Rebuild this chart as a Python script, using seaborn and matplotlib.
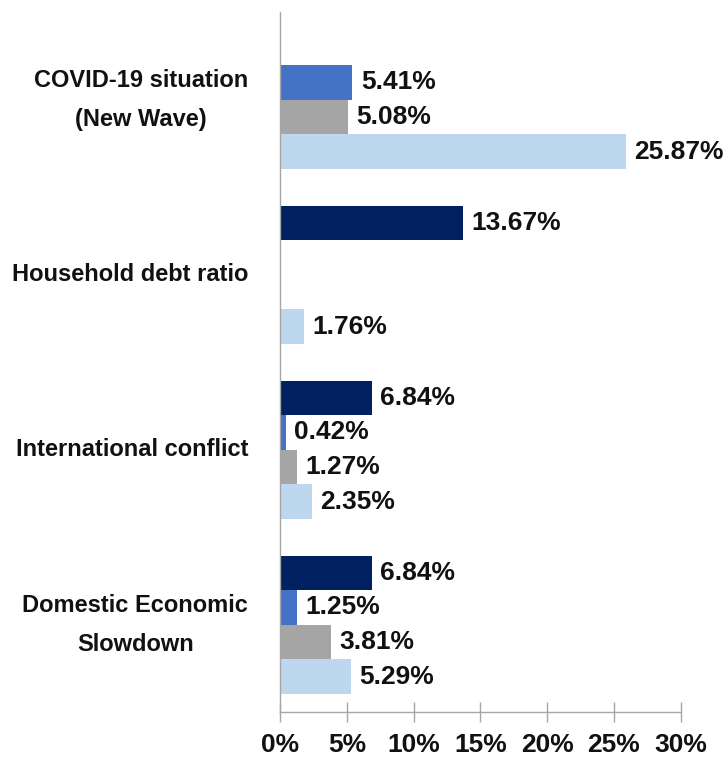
import matplotlib
matplotlib.use("Agg")
import matplotlib.pyplot as plt
import numpy as np
import pandas as pd
import seaborn as sns
from matplotlib.ticker import FuncFormatter, MultipleLocator

# Data (percent); NaN = no bar shown
categories = ["COVID-19 situation\n(New Wave)", "Household debt ratio",
              "International conflict", "Domestic Economic\nSlowdown"]
series = ["Series 1", "Series 2", "Series 3", "Series 4"]
values_s1 = [np.nan, 13.67, 6.84, 6.84]
values_s2 = [5.41, np.nan, 0.42, 1.25]
values_s3 = [5.08, np.nan, 1.27, 3.81]
values_s4 = [25.87, 1.76, 2.35, 5.29]
colors = ["#012060", "#4472C4", "#A5A5A5", "#BDD7EE"]

rows = []
for name, vals in zip(series, [values_s1, values_s2, values_s3, values_s4]):
    for cat, v in zip(categories, vals):
        if not np.isnan(v):
            rows.append({"category": cat, "series": name, "value": v})
df = pd.DataFrame(rows)

sns.set_theme(style="white")
plt.rcParams['font.family'] = ['Liberation Sans', 'DejaVu Sans']
plt.rcParams['font.weight'] = 'bold'

fig = plt.figure(figsize=(7.28, 7.65), dpi=100)
ax = fig.add_axes([0.385, 0.069, 0.55, 0.915])

sns.barplot(data=df, y="category", x="value", hue="series", order=categories,
            hue_order=series, palette=colors, orient="h", width=0.79,
            saturation=1, legend=False, ax=ax, errorbar=None, linewidth=0)

for cont in ax.containers:
    ax.bar_label(cont, labels=[f"{b.get_width():.2f}%" for b in cont],
                 padding=6, fontsize=19, fontweight="bold", color="#111111")

ax.set_xlim(0, 30)
ax.set_ylim(3.5, -0.5)
ax.xaxis.set_major_locator(MultipleLocator(5))
ax.xaxis.set_major_formatter(FuncFormatter(lambda x, pos: f"{x:.0f}%"))
ax.set_xlabel("")
ax.set_ylabel("")

for side in ["top", "right"]:
    ax.spines[side].set_visible(False)
for side in ["left", "bottom"]:
    ax.spines[side].set_color("#A6A6A6")
    ax.spines[side].set_linewidth(1.0)

ax.tick_params(axis="x", bottom=True, direction="inout", length=14, width=1,
               color="#A6A6A6", pad=8, labelsize=19, labelcolor="#111111")
ax.tick_params(axis="y", left=False, length=0, pad=23, labelsize=17,
               labelcolor="#111111")
for lbl in ax.get_xticklabels() + ax.get_yticklabels():
    lbl.set_fontweight("bold")
for lbl in ax.get_yticklabels():
    lbl.set_multialignment("center")
    lbl.set_linespacing(1.9)
    lbl.set_verticalalignment("center")

fig.savefig("out.png", dpi=100, facecolor="white")
